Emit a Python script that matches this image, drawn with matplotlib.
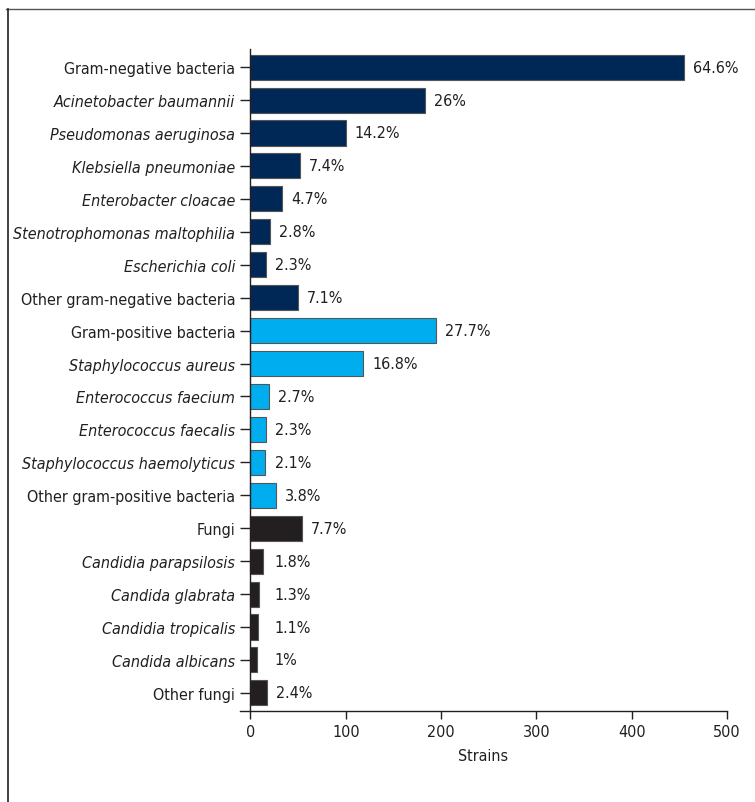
import numpy as np
import matplotlib
matplotlib.use("Agg")
import matplotlib.pyplot as plt
from matplotlib.lines import Line2D
from matplotlib import font_manager

# pick a narrow sans if one is installed
names = {f.name for f in font_manager.fontManager.ttflist}
if 'Liberation Sans Narrow' in names:
    plt.rcParams['font.family'] = ['Liberation Sans Narrow', 'DejaVu Sans']
    fs = 12.5
else:
    plt.rcParams['font.family'] = ['DejaVu Sans']
    plt.rcParams['font.stretch'] = 'condensed'
    fs = 11.5

labels = ["Gram-negative bacteria", "Acinetobacter baumannii", "Pseudomonas aeruginosa",
          "Klebsiella pneumoniae", "Enterobacter cloacae", "Stenotrophomonas maltophilia",
          "Escherichia coli", "Other gram-negative bacteria",
          "Gram-positive bacteria", "Staphylococcus aureus", "Enterococcus faecium",
          "Enterococcus faecalis", "Staphylococcus haemolyticus", "Other gram-positive bacteria",
          "Fungi", "Candidia parapsilosis", "Candida glabrata", "Candidia tropicalis",
          "Candida albicans", "Other fungi"]
strains = [455, 183, 100, 52, 33, 20, 16, 50,
           195, 118, 19, 16, 15, 27,
           54, 13, 9, 8, 7, 17]
percent = ["64.6%", "26%", "14.2%", "7.4%", "4.7%", "2.8%", "2.3%", "7.1%",
           "27.7%", "16.8%", "2.7%", "2.3%", "2.1%", "3.8%",
           "7.7%", "1.8%", "1.3%", "1.1%", "1%", "2.4%"]
group = [0] * 8 + [1] * 6 + [2] * 6
italic = [False] + [True] * 6 + [False] + [False] + [True] * 4 + [False] + [False] + [True] * 4 + [False]

group_colors = ['#002856', '#00aeef', '#231f20']
txt = '#231f20'

fig = plt.figure(figsize=(7.55, 8.03), dpi=100)
W, H = 755, 803
ax = fig.add_axes([240 / W, 1 - 712 / H, (727 - 240) / W, (712 - 50) / H])

y = np.arange(len(labels))
colors = [group_colors[g] for g in group]
ax.barh(y, strains, height=0.76, color=colors, edgecolor='#555555', linewidth=0.8)

for yi, v, p in zip(y, strains, percent):
    ax.annotate(p, (max(v, 16), yi), xytext=(6.5, 0), textcoords='offset points',
                va='center', ha='left', fontsize=fs, color=txt)

ax.set_xlim(-11, 500)
ax.set_ylim(len(labels) - 0.45, -0.55)

ax.spines['right'].set_visible(False)
ax.spines['top'].set_visible(False)
ax.spines['left'].set_position(('data', 0))
for s in ['left', 'bottom']:
    ax.spines[s].set_color(txt)
    ax.spines[s].set_linewidth(1)

ax.set_yticks(y)
ax.set_yticklabels(labels, fontsize=fs, color=txt)
ax.set_xticks([0, 100, 200, 300, 400, 500])
ax.tick_params(axis='x', labelsize=fs, length=6, width=1, colors=txt)
ax.tick_params(axis='y', length=7, width=1, pad=4, colors=txt)
ax.set_xlabel("Strains", fontsize=fs, color=txt, labelpad=6)
for lab, it in zip(ax.get_yticklabels(), italic):
    if it:
        lab.set_fontstyle('italic')

# panel frame (top and left edges)
fig.add_artist(Line2D([6 / W, 1], [1 - 10 / H, 1 - 10 / H], color='#555555', lw=1))
fig.add_artist(Line2D([8 / W, 8 / W], [1 - 10 / H, 0], color=txt, lw=1.2))

fig.savefig("out.png", dpi=100)
